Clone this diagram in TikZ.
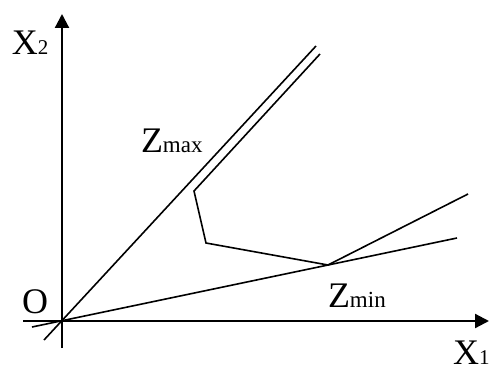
\documentclass[tikz,border=0pt]{standalone}
\usepackage{fontspec}
\setmainfont{Liberation Serif}
\usetikzlibrary{arrows.meta}
\newcommand{\bigtxt}{\fontsize{36}{36}\selectfont}
\newcommand{\smalltxt}{\fontsize{23}{23}\selectfont}
\newcommand{\digittxt}{\fontsize{21}{21}\selectfont}
\tikzset{
  axis/.style={line width=2.2pt,-{Triangle[length=14pt,width=14pt]}},
  graphline/.style={line width=1.6pt,line join=miter},
  lbl/.style={anchor=base west,inner sep=0pt,outer sep=0pt,text depth=0pt}
}
\begin{document}
\begin{tikzpicture}[x=1pt,y=-1pt]
\useasboundingbox (0,0) rectangle (489,369);
% key points
\coordinate (O) at (62,321);
\coordinate (xstart) at (23,321);
\coordinate (xend) at (489,321);
\coordinate (ystart) at (62,348);
\coordinate (yend) at (62,14);
\coordinate (l1a) at (44,340);
\coordinate (l1b) at (316,46);
\coordinate (l3a) at (32,327);
\coordinate (l3b) at (457,238);
\coordinate (p1) at (320,54);
\coordinate (p2) at (194,191);
\coordinate (p3) at (206,243);
\coordinate (p4) at (328,265);
\coordinate (p5) at (468,194);
% axes
\draw[axis] (xstart) -- (xend);
\draw[axis] (ystart) -- (yend);
% lines
\draw[graphline] (l1a) -- (l1b);
\draw[graphline] (l3a) -- (l3b);
\draw[graphline] (p1) -- (p2) -- (p3) -- (p4) -- (p5);
% labels
\node[lbl] (lx2) at (12,54) {\bigtxt X\digittxt 2};
\node[lbl] (lx1) at (453,364) {\bigtxt X\digittxt 1};
\node[lbl] (lo) at (22,313) {\bigtxt O};
\node[lbl] (lzmax) at (141,152) {\bigtxt Z\smalltxt max};
\node[lbl] (lzmin) at (328,307) {\bigtxt Z\smalltxt min};
\end{tikzpicture}
\end{document}
